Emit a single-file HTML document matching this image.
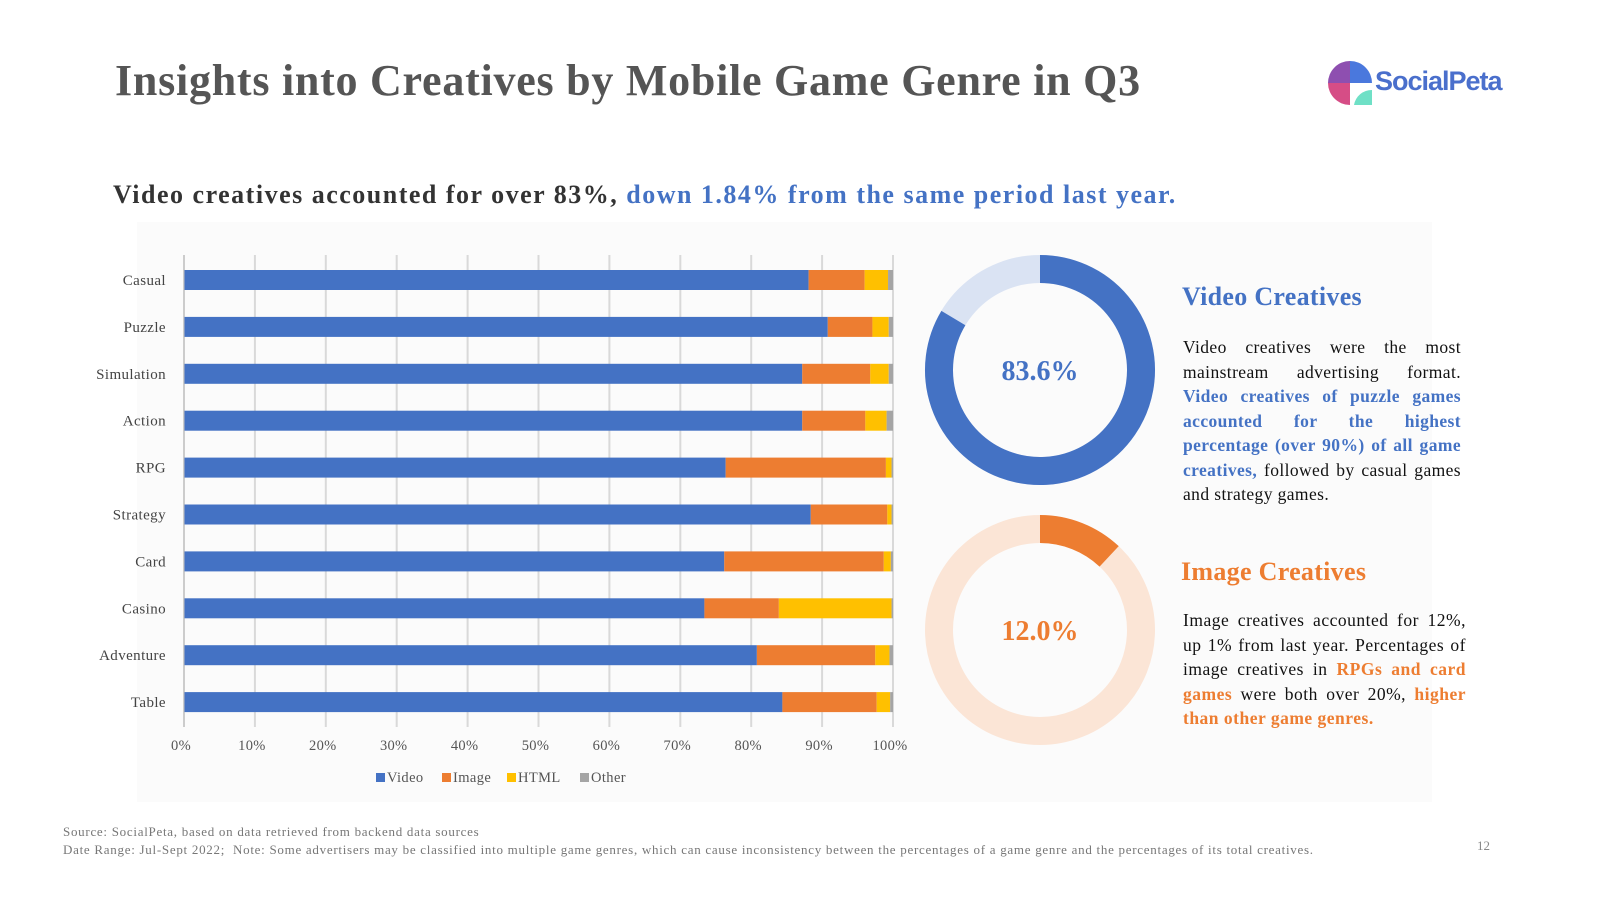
<!DOCTYPE html>
<html><head><meta charset="utf-8">
<style>
body{margin:0;width:1600px;height:900px;background:#fff;font-family:"Liberation Serif",serif;overflow:hidden;position:relative}
.abs{position:absolute}
</style></head><body>
<div class="abs" style="left:115px;top:55px;font-size:44px;font-weight:bold;color:#555;letter-spacing:0.75px">Insights into Creatives by Mobile Game Genre in Q3</div>
<div class="abs" style="left:1328px;top:60px;width:180px;height:50px">
<svg width="50" height="46" viewBox="0 0 50 46"><path d="M22 1 A22 22 0 0 0 0 23 L22 23Z" fill="#8e4fb0"/><path d="M22 1 A22 22 0 0 1 44 23 L22 23Z" fill="#4a78dd"/><path d="M0 23 A22 22 0 0 0 22 45 L22 23Z" fill="#d64d86"/><path d="M22 45 L44 45 L44 30 A18 18 0 0 0 26 45Z" fill="#6fe0c6"/></svg>
<span style="position:absolute;left:47px;top:6px;font-family:'Liberation Sans',sans-serif;font-weight:bold;font-size:27px;color:#4a6fcc;letter-spacing:-1px">SocialPeta</span></div>
<div class="abs" style="left:113px;top:180px;font-size:26px;font-weight:bold;color:#333;letter-spacing:1.5px;white-space:nowrap">Video creatives accounted for over 83%, <span style="color:#4472c4">down 1.84% from the same period last year.</span></div>
<div class="abs" style="left:137px;top:222px;width:1295px;height:580px;background:#fbfbfb"></div>
<svg class="abs" style="left:0;top:0" width="1600" height="900" id="chart"></svg>

<div class="abs" style="left:1182px;top:282px;font-size:26px;font-weight:bold;color:#4472c4;letter-spacing:0.3px">Video Creatives</div>
<div class="abs" style="left:1183px;top:335px;width:278px;font-size:17.5px;line-height:24.5px;text-align:justify;color:#111;letter-spacing:0.4px">Video creatives were the most mainstream advertising format. <b style="color:#4472c4">Video creatives of puzzle games accounted for the highest percentage (over 90%) of all game creatives,</b> followed by casual games and strategy games.</div>
<div class="abs" style="left:1181px;top:557px;font-size:26px;font-weight:bold;color:#ed7d31;letter-spacing:0.3px">Image Creatives</div>
<div class="abs" style="left:1183px;top:608px;width:283px;font-size:17.5px;line-height:24.5px;text-align:justify;color:#111;letter-spacing:0.5px">Image creatives accounted for 12%, up 1% from last year. Percentages of image creatives in <b style="color:#ed7d31">RPGs and card games</b> were both over 20%, <b style="color:#ed7d31">higher than other game genres.</b></div>
<div class="abs" style="left:63px;top:823px;font-size:13px;line-height:18px;color:#777;letter-spacing:0.72px;white-space:nowrap">Source: SocialPeta, based on data retrieved from backend data sources<br>Date Range: Jul-Sept 2022;&nbsp; Note: Some advertisers may be classified into multiple game genres, which can cause inconsistency between the percentages of a game genre and the percentages of its total creatives.</div>
<div class="abs" style="left:1477px;top:838px;font-size:13px;color:#888">12</div>
<script>
const categories=["Casual","Puzzle","Simulation","Action","RPG","Strategy","Card","Casino","Adventure","Table"];
const video=[88.1,90.8,87.2,87.2,76.4,88.4,76.2,73.4,80.8,84.4];
const image=[7.9,6.3,9.6,8.9,22.6,10.8,22.5,10.5,16.7,13.3];
const html=[3.3,2.3,2.6,3.0,0.8,0.6,1.0,15.9,2.0,1.9];
const other=[0.7,0.6,0.6,0.9,0.2,0.2,0.3,0.2,0.5,0.4];
const ticks=["0%","10%","20%","30%","40%","50%","60%","70%","80%","90%","100%"];
const donutValues=[83.6,12.0];
const donutLabels=["83.6%","12.0%"];
const NS="http://www.w3.org/2000/svg";
const svg=document.getElementById('chart');
const X0=184,X1=893,Y0=280,DY=46.9;
const xs=v=>X0+(X1-X0)*v/100;
const ys=i=>Y0+DY*i;
function mk(t,a){const e=document.createElementNS(NS,t);for(const k in a)e.setAttribute(k,a[k]);svg.appendChild(e);return e;}
ticks.forEach((t,i)=>{
 const g=mk('line',{x1:xs(i*10),x2:xs(i*10),y1:255,y2:727,stroke:'#d9d9d9','stroke-width':2});
 
 
 const tx=mk('text',{x:xs(i*10)-3,y:750,'text-anchor':'middle','font-size':14.5,fill:'#555','font-family':'Liberation Serif','letter-spacing':'0.3'});
 tx.textContent=t;
 
 
});
const series=[video,image,html,other];const cols=['#4472c4','#ed7d31','#ffc000','#a5a5a5'];const names=['video','image','html','other'];
categories.forEach((c,i)=>{
 const l=mk('text',{x:166,y:ys(i)+5,'text-anchor':'end','font-size':15,fill:'#444','font-family':'Liberation Serif','letter-spacing':'0.4'});
 l.textContent=c;
 
 
 let acc=0;
 series.forEach((s,k)=>{
  const r=mk('rect',{x:xs(acc),y:ys(i)-10,width:xs(acc+s[i])-xs(acc),height:20,fill:cols[k]});
  
  
  acc+=s[i];
 });
});
const ax=mk('line',{x1:X0,x2:X0,y1:255,y2:727,stroke:'#bfbfbf','stroke-width':1});


const leg=[['Video',376],['Image',442],['HTML',507],['Other',580]];
leg.forEach((L,k)=>{
 const r=mk('rect',{x:L[1],y:773,width:9,height:9,fill:cols[k]});
 
 
 const t=mk('text',{x:L[1]+11,y:782,'font-size':14.5,fill:'#555','font-family':'Liberation Serif','letter-spacing':'0.4'});
 t.textContent=L[0];
 
 
});
const dc=[[1040,370,'#4472c4','#dae3f3'],[1040,630,'#ed7d31','#fbe5d6']];
donutValues.forEach((v,i)=>{
 const [cx,cy,c1,c2]=dc[i];const r=101,w=28;
 const bg=mk('circle',{cx,cy,r,fill:'none',stroke:c2,'stroke-width':w});
 
 
 const a=v/100*2*Math.PI;
 const ex=cx+r*Math.sin(a),ey=cy-r*Math.cos(a);
 const p=mk('path',{d:`M${cx} ${cy-r} A${r} ${r} 0 ${v>50?1:0} 1 ${ex} ${ey}`,fill:'none',stroke:c1,'stroke-width':w});
 
 
 const t=mk('text',{x:cx,y:cy+10,'text-anchor':'middle','font-size':28,'font-weight':'bold',fill:c1,'font-family':'Liberation Serif'});
 t.textContent=donutLabels[i];
 
 
});
</script>
</body></html>
